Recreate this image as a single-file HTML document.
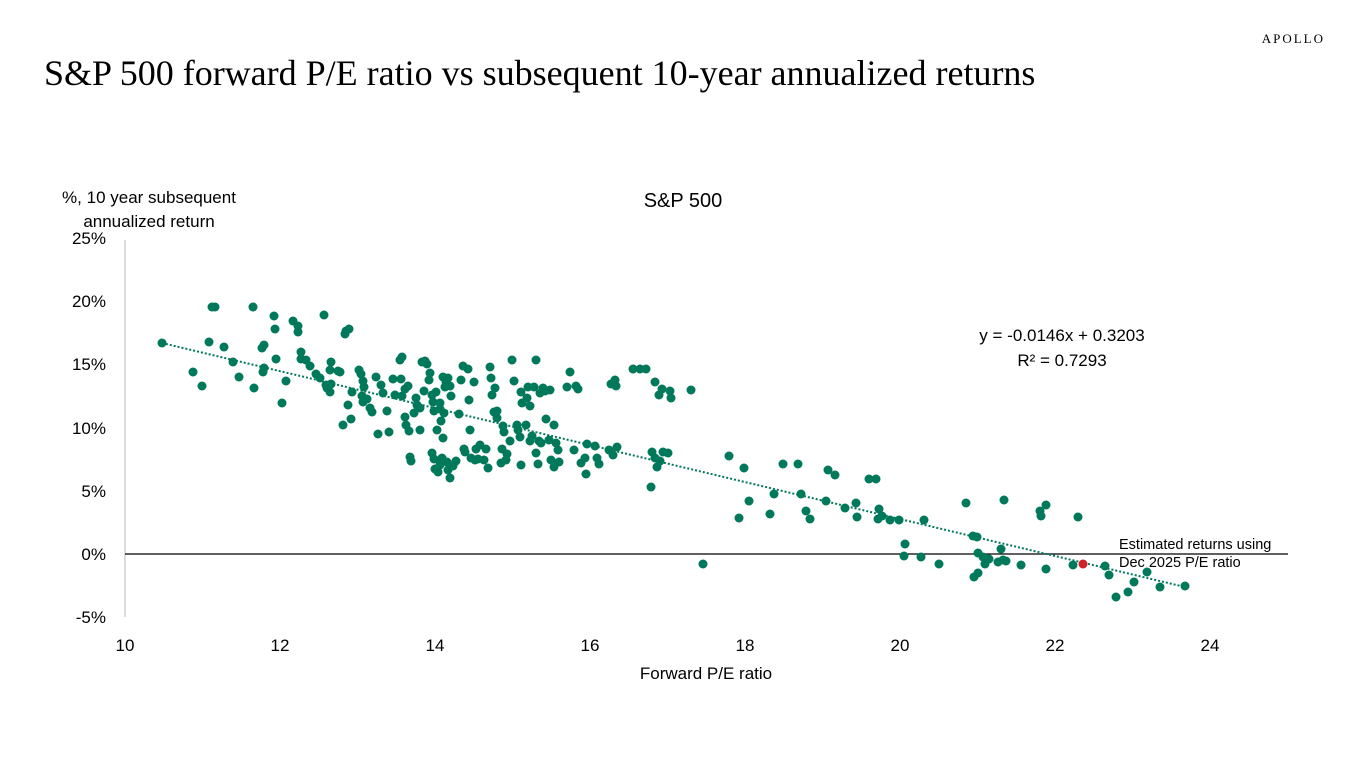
<!DOCTYPE html>
<html><head><meta charset="utf-8"><style>
body{margin:0;width:1366px;height:768px;background:#fff;overflow:hidden}
svg{position:absolute;left:0;top:0}
text{font-family:"Liberation Sans",sans-serif;fill:#000}
</style></head><body>
<svg width="1366" height="768" viewBox="0 0 1366 768">
<text x="1325" y="43" text-anchor="end" style="font-family:'Liberation Serif',serif;font-size:13px;letter-spacing:2px">APOLLO</text>
<text x="44" y="85" style="font-family:'Liberation Serif',serif;font-size:36px">S&amp;P 500 forward P/E ratio vs subsequent 10-year annualized returns</text>
<text x="683" y="207" text-anchor="middle" font-size="20">S&amp;P 500</text>
<text x="149" y="203" text-anchor="middle" font-size="17">%, 10 year subsequent</text>
<text x="149" y="227" text-anchor="middle" font-size="17">annualized return</text>
<g font-size="17" text-anchor="end">
<text x="106" y="244">25%</text><text x="106" y="307">20%</text><text x="106" y="370">15%</text>
<text x="106" y="434">10%</text><text x="106" y="497">5%</text><text x="106" y="560">0%</text><text x="106" y="623">-5%</text>
</g>
<g font-size="17" text-anchor="middle">
<text x="125" y="651">10</text><text x="280" y="651">12</text><text x="435" y="651">14</text><text x="590" y="651">16</text>
<text x="745" y="651">18</text><text x="900" y="651">20</text><text x="1055" y="651">22</text><text x="1210" y="651">24</text>
</g>
<text x="706" y="679" text-anchor="middle" font-size="17">Forward P/E ratio</text>
<line x1="125" y1="240" x2="125" y2="617" stroke="#bbb" stroke-width="1"/>
<line x1="125" y1="554" x2="1288" y2="554" stroke="#000" stroke-width="1.3"/>
<text x="1062" y="341" text-anchor="middle" font-size="17">y = -0.0146x + 0.3203</text>
<text x="1062" y="366" text-anchor="middle" font-size="17">R² = 0.7293</text>
<text x="1119" y="549" font-size="14.5">Estimated returns using</text>
<text x="1119" y="567" font-size="14.5">Dec 2025 P/E ratio</text>
<g fill="#00785a" id="dots"></g>
<line x1="162" y1="343" x2="1185" y2="587" stroke="#00785a" stroke-width="2" stroke-dasharray="2 2"/>
<circle cx="1083" cy="564" r="4.5" fill="#d0202a"/>
</svg>
<script>
var pts=[162,343,193,372,202,386,209,342,212,307,215,307,224,347,233,362,239,377,253,307,254,388,262,348,264,345,264,368,263,372,274,316,275,329,276,359,282,403,286,381,293,321,298,326,298,332,301,352,301,359,306,360,310,366,316,374,320,378,324,315,326,385,327,388,330,370,331,362,331,384,330,392,338,371,340,372,343,425,345,334,346,331,349,329,348,405,351,419,352,392,359,370,361,374,363,381,364,387,362,396,363,402,367,399,370,408,372,412,376,377,378,434,381,385,383,393,387,411,389,432,393,379,395,395,400,360,402,357,401,379,402,396,405,389,405,417,406,425,408,386,409,431,410,457,411,461,414,413,416,398,417,405,420,408,420,430,422,362,424,391,425,361,427,364,429,380,430,373,432,395,433,402,434,411,436,392,437,430,440,403,440,409,441,421,443,377,444,413,445,387,443,438,446,382,448,378,450,386,451,396,432,453,434,459,435,469,438,472,440,461,440,465,442,458,447,462,448,470,450,478,453,466,456,461,459,414,461,380,463,366,464,449,465,452,468,369,469,400,470,430,471,458,474,382,475,460,476,449,478,459,480,445,484,460,486,449,488,468,490,367,491,378,492,395,495,388,494,412,497,411,497,418,501,463,502,449,503,426,504,432,506,460,507,454,510,441,512,360,514,381,517,425,518,430,520,437,521,465,521,392,522,403,526,425,527,398,528,387,530,406,532,436,530,441,534,387,536,360,536,453,538,464,539,441,541,443,540,393,543,388,545,391,546,419,549,440,550,390,551,460,554,467,554,425,556,443,558,450,559,462,567,387,570,372,574,450,576,386,578,389,581,463,585,458,586,474,587,444,595,446,597,458,599,464,
611,384,615,380,616,386,633,369,640,369,646,369,655,382,659,395,662,389,670,391,671,398,691,390,609,450,613,455,617,447,652,452,655,458,660,461,663,452,668,453,657,467,651,487,703,564,
729,456,744,468,749,501,739,518,770,514,774,494,783,464,798,464,801,494,806,511,810,519,826,501,828,470,835,475,845,508,856,503,857,517,869,479,876,479,879,509,878,519,882,516,890,520,899,520,905,544,904,556,921,557,924,520,939,564,966,503,973,536,977,537,978,553,974,577,978,573,983,557,985,564,989,559,998,562,1003,560,1004,500,1001,549,1006,561,1021,565,1040,511,1046,505,1041,516,1046,569,1073,565,1078,517,1105,566,1109,575,1116,597,1128,592,1134,582,1147,572,1160,587,1185,586];
var g=document.getElementById('dots'),s='';
for(var i=0;i<pts.length;i+=2)s+='<circle cx="'+pts[i]+'" cy="'+pts[i+1]+'" r="4.5"/>';
g.innerHTML=s;
</script>
</body></html>
